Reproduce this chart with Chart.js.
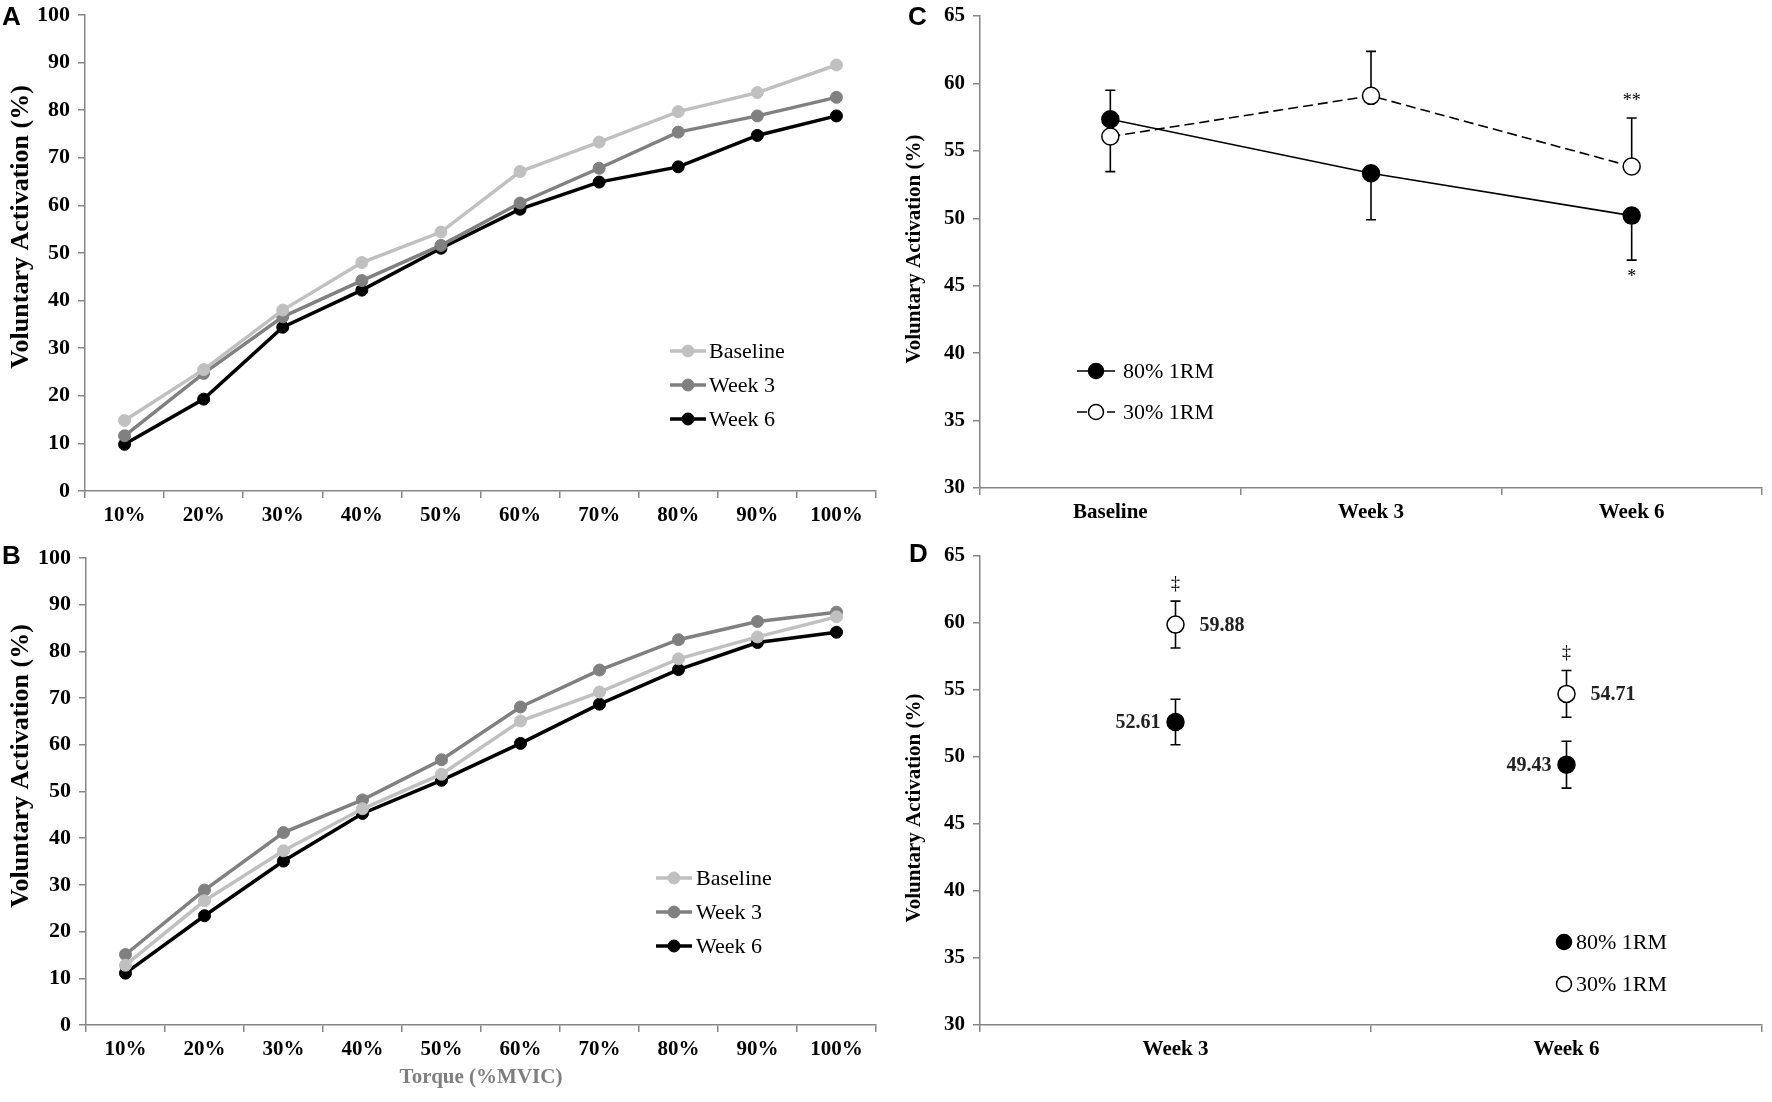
<!DOCTYPE html>
<html>
<head>
<meta charset="utf-8">
<script src="https://cdn.jsdelivr.net/npm/chart.js@4.4.1/dist/chart.umd.min.js"></script>
<style>
  body { margin: 0; background: #fff; }
  #wrap { position: relative; width: 1772px; height: 1102px; overflow: hidden; background: #fff; }
  canvas { position: absolute; }
  .tag { position: absolute; font: bold 26px "Liberation Sans", Arial, sans-serif; line-height: 26px; color: #000; z-index: 2; }
</style>
</head>
<body>
<div id="wrap">
  <canvas id="cA" style="left:0;top:0"></canvas>
  <canvas id="cB" style="left:0;top:540px"></canvas>
  <canvas id="cC" style="left:890px;top:0"></canvas>
  <canvas id="cD" style="left:890px;top:540px"></canvas>
  <div class="tag" style="left:2px;top:3px">A</div>
  <div class="tag" style="left:2px;top:542px">B</div>
  <div class="tag" style="left:908px;top:3px">C</div>
  <div class="tag" style="left:909px;top:540px">D</div>
</div>
<script>
// ---- data ----
const torqueLabels = ['10%', '20%', '30%', '40%', '50%', '60%', '70%', '80%', '90%', '100%'];
const sessionNames = ['Baseline', 'Week 3', 'Week 6'];

// panel A
const aBaseline = [14.8, 25.5, 38.0, 48.0, 54.4, 67.1, 73.3, 79.7, 83.7, 89.5];
const aWeek3    = [11.6, 24.7, 36.6, 44.2, 51.6, 60.5, 67.8, 75.4, 78.8, 82.7];
const aWeek6    = [ 9.8, 19.3, 34.4, 42.2, 51.0, 59.2, 64.9, 68.1, 74.7, 78.8];

// panel B
const bBaseline = [12.8, 26.6, 37.3, 46.3, 53.7, 65.1, 71.3, 78.4, 83.1, 87.4];
const bWeek3    = [15.1, 28.9, 41.2, 48.2, 56.8, 68.1, 76.0, 82.5, 86.4, 88.4];
const bWeek6    = [11.1, 23.4, 35.1, 45.3, 52.4, 60.3, 68.7, 76.1, 81.9, 84.1];

// panel C (one-sided error bars, +1 up / -1 down)
const cTimeLabels = ['Baseline', 'Week 3', 'Week 6'];
const c80     = [57.34, 53.34, 50.20];
const c80Err  = [2.15, 3.45, 3.30];
const c80Dir  = [1, -1, -1];
const c80Mark = ['', '', '*'];
const c30     = [56.06, 59.08, 53.84];
const c30Err  = [2.60, 3.30, 3.60];
const c30Dir  = [-1, 1, 1];
const c30Mark = ['', '', '**'];

// panel D
const dTimeLabels = ['Week 3', 'Week 6'];
const d80     = [52.61, 49.43];
const d80Err  = [1.70, 1.75];
const d30     = [59.88, 54.71];
const d30Err  = [1.75, 1.74];
const d30Mark = ['\u2021', '\u2021'];

const groupNames = ['80% 1RM', '30% 1RM'];
const yTitle = 'Voluntary Activation (%)';
const xTitleAB = 'Torque (%MVIC)';

// ---- styling ----
const serif = '"Liberation Serif", "Times New Roman", serif';
const axisGray = '#868686';
const greys = ['#c0c0c0', '#808080', '#000000'];

// error bars under the markers, stars / daggers / values on top
const errorBars = {
  id: 'errorBars',
  beforeDatasetsDraw(chart) {
    const ctx = chart.ctx, ys = chart.scales.y;
    chart.data.datasets.forEach((ds, i) => {
      if (!ds.errors) return;
      chart.getDatasetMeta(i).data.forEach((pt, j) => {
        const dirs = ds.errorDirs ? [ds.errorDirs[j]] : [1, -1];
        ctx.save();
        ctx.strokeStyle = '#000';
        ctx.lineWidth = 1.6;
        dirs.forEach(d => {
          const yEnd = ys.getPixelForValue(ds.data[j] + d * ds.errors[j]);
          ctx.beginPath();
          ctx.moveTo(pt.x, pt.y); ctx.lineTo(pt.x, yEnd);
          ctx.moveTo(pt.x - 5, yEnd); ctx.lineTo(pt.x + 5, yEnd);
          ctx.stroke();
        });
        ctx.restore();
      });
    });
  },
  afterDatasetsDraw(chart) {
    const ctx = chart.ctx, ys = chart.scales.y;
    chart.data.datasets.forEach((ds, i) => {
      chart.getDatasetMeta(i).data.forEach((pt, j) => {
        ctx.save();
        ctx.fillStyle = '#000';
        if (ds.marks && ds.marks[j]) {
          const d = ds.errorDirs ? ds.errorDirs[j] : 1;
          const yEnd = ys.getPixelForValue(ds.data[j] + d * ds.errors[j]);
          ctx.font = '18px ' + serif;
          ctx.textAlign = 'center';
          ctx.textBaseline = 'middle';
          ctx.fillText(ds.marks[j], pt.x, yEnd - d * 17);
        }
        if (ds.valueSide) {
          const left = ds.valueSide === 'left';
          ctx.font = 'bold 20px ' + serif;
          ctx.fillStyle = '#222';
          ctx.textBaseline = 'middle';
          ctx.textAlign = left ? 'right' : 'left';
          ctx.fillText(ds.data[j].toFixed(2), pt.x + (left ? -15 : 24), pt.y + 1);
        }
        ctx.restore();
      });
    });
  }
};

// legend drawn inside the plot area
const sideLegend = {
  id: 'sideLegend',
  afterDraw(chart, args, o) {
    const ctx = chart.ctx;
    chart.data.datasets.forEach((ds, i) => {
      const y = o.y + i * o.step;
      ctx.save();
      if (ds.showLine !== false) {
        ctx.strokeStyle = ds.borderColor;
        ctx.lineWidth = ds.borderWidth;
        ctx.setLineDash(ds.borderDash || []);
        ctx.beginPath();
        ctx.moveTo(o.x, y); ctx.lineTo(o.x + o.len, y);
        ctx.stroke();
        ctx.setLineDash([]);
      }
      const cx = o.x + o.len / 2;
      ctx.beginPath();
      ctx.arc(cx, y, o.r, 0, Math.PI * 2);
      ctx.fillStyle = ds.pointBackgroundColor;
      ctx.fill();
      ctx.lineWidth = ds.pointBorderWidth || 1;
      ctx.strokeStyle = ds.pointBorderColor;
      ctx.stroke();
      ctx.fillStyle = '#000';
      ctx.font = '22px ' + serif;
      ctx.textAlign = 'left';
      ctx.textBaseline = 'middle';
      ctx.fillText(ds.label, o.x + o.len + o.gap, y + 1);
      ctx.restore();
    });
  }
};

// rotated y title placed where the figure has it
const sideTitle = {
  id: 'sideTitle',
  afterDraw(chart, args, o) {
    const ctx = chart.ctx;
    ctx.save();
    ctx.translate(o.x, o.y);
    ctx.rotate(-Math.PI / 2);
    ctx.font = 'bold ' + o.size + 'px ' + serif;
    ctx.fillStyle = '#000';
    ctx.textAlign = 'center';
    ctx.textBaseline = 'middle';
    ctx.fillText(yTitle, 0, 0);
    ctx.restore();
  }
};

function yAxis(min, max, step, width, fontSize) {
  return {
    min, max,
    border: { color: axisGray, width: 1.5 },
    grid: { drawOnChartArea: false, tickLength: 7, color: axisGray, lineWidth: 1.5 },
    ticks: { stepSize: step, padding: 8, color: '#000', font: { family: serif, size: fontSize, weight: 'bold' } },
    afterFit: s => { s.width = width; s.paddingTop = 0; s.paddingBottom = 0; }
  };
}

function xAxis(height, title) {
  const ax = {
    offset: true,
    border: { color: axisGray, width: 1.5 },
    grid: { offset: true, drawOnChartArea: false, tickLength: 7, color: axisGray, lineWidth: 1.5 },
    ticks: { padding: 5, autoSkip: false, maxRotation: 0, color: '#000', font: { family: serif, size: 21, weight: 'bold' } },
    afterFit: s => { s.height = height; s.paddingLeft = 0; s.paddingRight = 0; }
  };
  if (title) {
    ax.title = { display: true, text: title, color: '#7f7f7f', padding: { top: 0, bottom: 12 },
                 font: { family: serif, size: 21, weight: 'bold' } };
  }
  return ax;
}

function weekSeries(vals) {
  return vals.map((v, i) => ({
    label: sessionNames[i], data: v,
    borderColor: greys[i], backgroundColor: greys[i],
    pointBackgroundColor: greys[i], pointBorderColor: greys[i], pointBorderWidth: 1,
    borderWidth: 3.5, pointRadius: 6, tension: 0
  }));
}

function makeCanvas(id, w, h) {
  const c = document.getElementById(id);
  c.width = w; c.height = h;
  c.style.width = w + 'px'; c.style.height = h + 'px';
  return c;
}

function opts(pad, legend, title, scales) {
  return {
    responsive: false,
    animation: false,
    events: [],
    layout: { padding: pad },
    plugins: { legend: { display: false }, tooltip: { enabled: false }, sideLegend: legend, sideTitle: title },
    scales
  };
}

// ---- A ----
new Chart(makeCanvas('cA', 900, 540), {
  type: 'line',
  data: { labels: torqueLabels, datasets: weekSeries([aBaseline, aWeek3, aWeek6]) },
  options: opts({ top: 15, right: 24, left: 0, bottom: 0 },
    { x: 670, y: 351, step: 34, len: 36, r: 6, gap: 3 },
    { x: 21, y: 227, size: 26 },
    { x: xAxis(49), y: yAxis(0, 100, 10, 85, 22) }),
  plugins: [sideLegend, sideTitle]
});

// ---- B ----
new Chart(makeCanvas('cB', 900, 562), {
  type: 'line',
  data: { labels: torqueLabels, datasets: weekSeries([bBaseline, bWeek3, bWeek6]) },
  options: opts({ top: 18, right: 24, left: 0, bottom: 0 },
    { x: 656, y: 338, step: 34, len: 36, r: 6, gap: 4 },
    { x: 21, y: 226, size: 26 },
    { x: xAxis(77, xTitleAB), y: yAxis(0, 100, 10, 86, 22) }),
  plugins: [sideLegend, sideTitle]
});

// ---- C ----
new Chart(makeCanvas('cC', 882, 540), {
  type: 'line',
  data: {
    labels: cTimeLabels,
    datasets: [
      { label: groupNames[0], data: c80, errors: c80Err, errorDirs: c80Dir, marks: c80Mark,
        borderColor: '#000', borderWidth: 1.6, pointRadius: 8.5, pointBackgroundColor: '#000',
        pointBorderColor: '#000', pointBorderWidth: 1.5, tension: 0 },
      { label: groupNames[1], data: c30, errors: c30Err, errorDirs: c30Dir, marks: c30Mark,
        borderColor: '#000', borderWidth: 1.6, borderDash: [10, 5], pointRadius: 8.5,
        pointBackgroundColor: '#fff', pointBorderColor: '#000', pointBorderWidth: 1.5, tension: 0 }
    ]
  },
  options: opts({ top: 16, right: 4, left: 0, bottom: 0 },
    { x: 187, y: 371, step: 41, len: 38, r: 7.5, gap: 8 },
    { x: 25, y: 249, size: 21 },
    { x: xAxis(52), y: yAxis(30, 65, 5, 90, 21) }),
  plugins: [errorBars, sideLegend, sideTitle]
});

// ---- D ----
new Chart(makeCanvas('cD', 882, 562), {
  type: 'line',
  data: {
    labels: dTimeLabels,
    datasets: [
      { label: groupNames[0], data: d80, errors: d80Err, valueSide: 'left', showLine: false,
        borderColor: '#000', borderWidth: 0, pointRadius: 8.5, pointBackgroundColor: '#000',
        pointBorderColor: '#000', pointBorderWidth: 1.5 },
      { label: groupNames[1], data: d30, errors: d30Err, marks: d30Mark, valueSide: 'right', showLine: false,
        borderColor: '#000', borderWidth: 0, pointRadius: 8.5, pointBackgroundColor: '#fff',
        pointBorderColor: '#000', pointBorderWidth: 1.5 }
    ]
  },
  options: opts({ top: 16, right: 4, left: 0, bottom: 0 },
    { x: 666, y: 402, step: 42, len: 16, r: 7.5, gap: 4 },
    { x: 25, y: 268, size: 21 },
    { x: xAxis(77), y: yAxis(30, 65, 5, 90, 21) }),
  plugins: [errorBars, sideLegend, sideTitle]
});
</script>
</body>
</html>
